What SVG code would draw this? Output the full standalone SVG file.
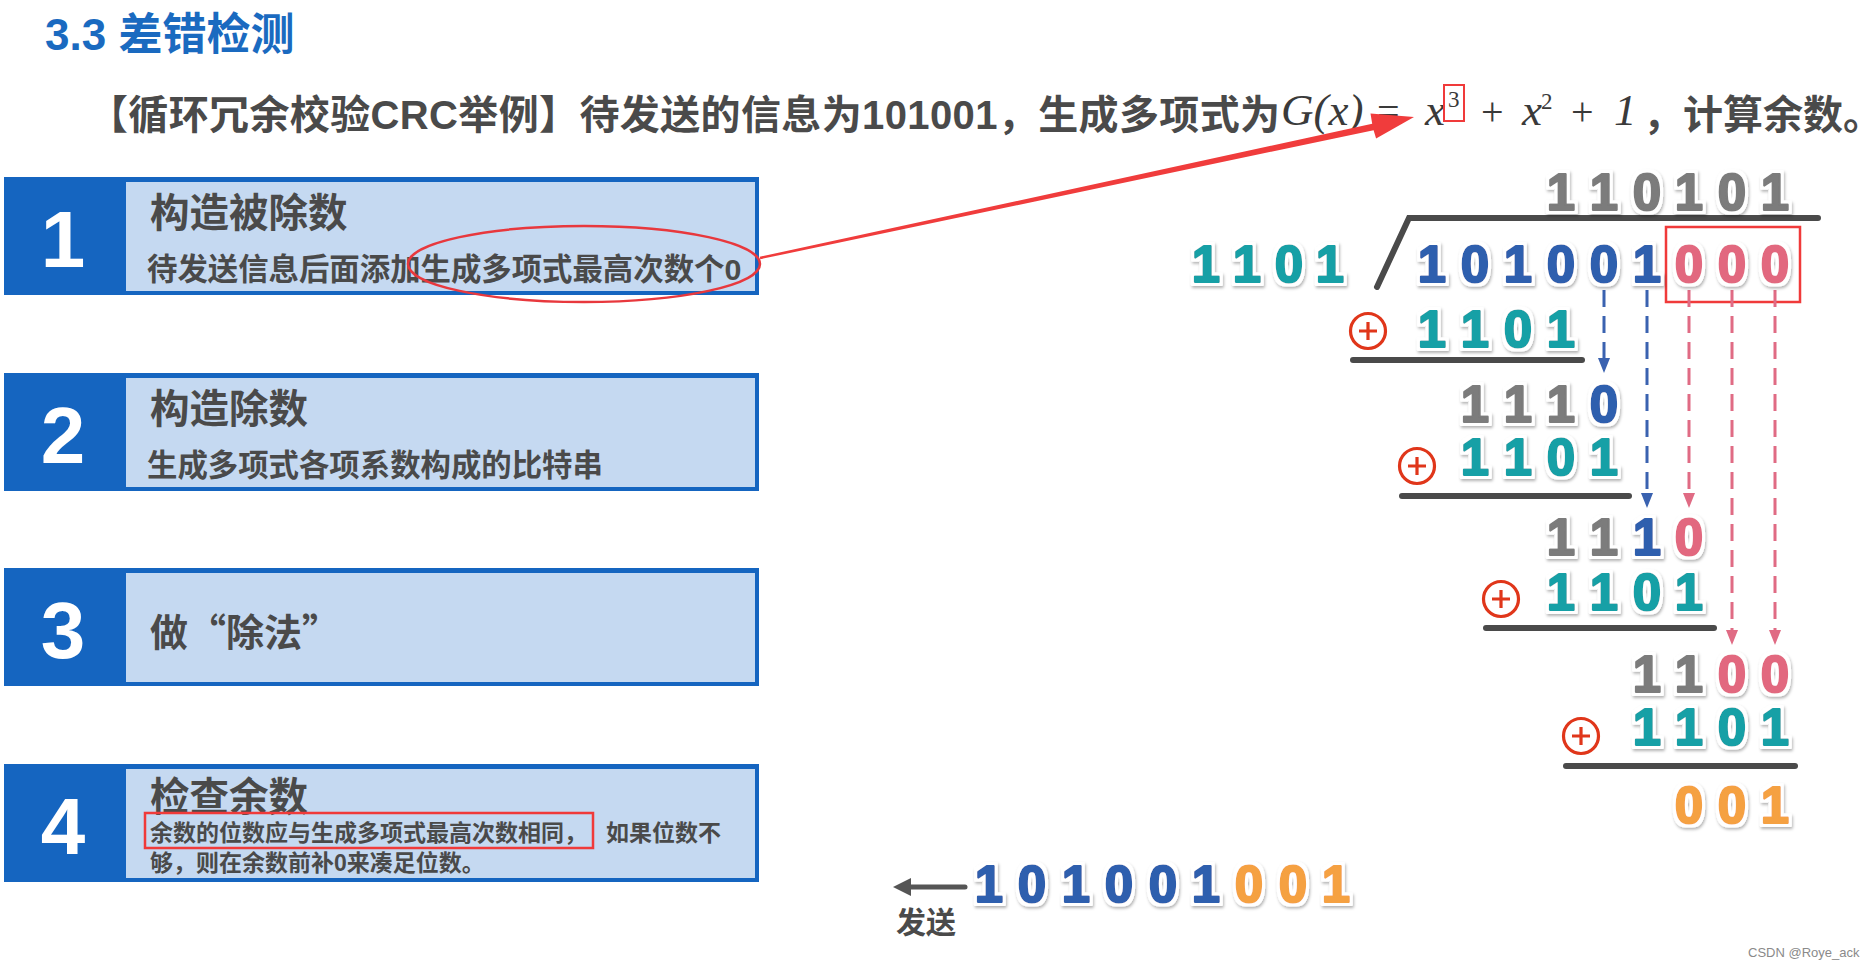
<svg xmlns="http://www.w3.org/2000/svg" width="1875" height="970" viewBox="0 0 1875 970">
<defs>
<style>
.cjk{font-family:"Liberation Sans","Noto Sans CJK SC",sans-serif;font-weight:bold;fill:#4a4a4a}
.cj{font-family:"Noto Sans CJK SC",sans-serif;font-weight:bold;fill:#4a4a4a}
.math{font-family:"Liberation Serif","Times New Roman",serif;fill:#3a3a3a}
.it{font-style:italic}
.num{font-family:"Liberation Sans",Arial,sans-serif;font-weight:bold;fill:#fff;font-size:80px;text-anchor:middle}
.dg{font-family:"Liberation Sans",Arial,sans-serif;font-weight:bold;font-size:51px;text-anchor:middle;stroke-width:2.2;stroke-linejoin:round}
.g{fill:#7b7b7b;stroke:#7b7b7b}
.t{fill:#14a0a6;stroke:#14a0a6}
.b{fill:#2e5fae;stroke:#2e5fae}
.p{fill:#e2687f;stroke:#e2687f}
.o{fill:#f5a142;stroke:#f5a142}
.bar{stroke:#4a4a4a;stroke-width:6;stroke-linecap:round;fill:none}
.xor{fill:none;stroke:#e0361a;stroke-width:3.2}
.dashb{stroke:#3a62b0;stroke-width:3;stroke-dasharray:17 9;fill:none}
.dashp{stroke:#e06b84;stroke-width:3;stroke-dasharray:17 9;fill:none}
.outer{fill:#1565c0}
.inner{fill:#c5d9f1}
</style>
<filter id="dgf" x="-20%" y="-20%" width="140%" height="150%">
<feMorphology in="SourceAlpha" operator="dilate" radius="2.5" result="d"/>
<feGaussianBlur in="d" stdDeviation="1.5" result="db"/>
<feOffset in="db" dx="1" dy="2" result="off"/>
<feFlood flood-color="#000" flood-opacity="0.3"/>
<feComposite in2="off" operator="in" result="sh"/>
<feFlood flood-color="#fff"/>
<feComposite in2="d" operator="in" result="wh"/>
<feMerge><feMergeNode in="sh"/><feMergeNode in="wh"/><feMergeNode in="SourceGraphic"/></feMerge>
</filter>
</defs>

<!-- Title -->
<text id="title" x="45" y="50" font-family="Liberation Sans,'Noto Sans CJK SC',sans-serif" font-weight="bold" font-size="44" fill="#1a6ac0">3.3 差错检测</text>

<!-- Problem statement -->
<g id="statement">
<text class="cjk" x="88" y="129" font-size="40" textLength="1192" lengthAdjust="spacing">【循环冗余校验CRC举例】待发送的信息为101001，生成多项式为</text>
<text class="math it" x="1281" y="125" font-size="45">G(x)</text>
<text class="math" x="1377" y="125" font-size="40">=</text>
<text class="math it" x="1425" y="125" font-size="45">x</text>
<text class="math" x="1448" y="107" font-size="23">3</text>
<text class="math" x="1481" y="125" font-size="40">+</text>
<text class="math it" x="1522" y="125" font-size="45">x</text>
<text class="math" x="1541" y="109" font-size="23">2</text>
<text class="math" x="1571" y="125" font-size="40">+</text>
<text class="math it" x="1614" y="125" font-size="45">1</text>
<text class="cjk" x="1643" y="129" font-size="40">，计算余数。</text>
<rect x="1444" y="85" width="20" height="36" fill="none" stroke="#f03a3a" stroke-width="2"/>
</g>

<!-- Step boxes -->
<g id="step1">
<rect class="outer" x="4" y="177" width="755" height="118"/>
<rect class="inner" x="126" y="182" width="629" height="109"/>
<text class="num" x="63" y="267">1</text>
<text class="cjk" x="150" y="227" font-size="39.5">构造被除数</text>
<text class="cjk" x="147" y="280" font-size="30.4">待发送信息后面添加生成多项式最高次数个0</text>
</g>
<g id="step2">
<rect class="outer" x="4" y="373" width="755" height="118"/>
<rect class="inner" x="126" y="378" width="629" height="109"/>
<text class="num" x="63" y="463">2</text>
<text class="cjk" x="150" y="423" font-size="39.5">构造除数</text>
<text class="cjk" x="147" y="476" font-size="30.4">生成多项式各项系数构成的比特串</text>
</g>
<g id="step3">
<rect class="outer" x="4" y="568" width="755" height="118"/>
<rect class="inner" x="126" y="573" width="629" height="109"/>
<text class="num" x="63" y="658">3</text>
<text class="cj" x="150" y="646" font-size="38">做“除法”</text>
</g>
<g id="step4">
<rect class="outer" x="4" y="764" width="755" height="118"/>
<rect class="inner" x="126" y="769" width="629" height="109"/>
<text class="num" x="63" y="854">4</text>
<text class="cjk" x="150" y="811" font-size="39.5">检查余数</text>
<text class="cjk" x="150" y="841" font-size="23">余数的位数应与生成多项式最高次数相同，<tspan x="606">如果位数不</tspan></text>
<text class="cjk" x="150" y="871" font-size="23">够，则在余数前补0来凑足位数。</text>
<rect x="145" y="813" width="448" height="35" fill="none" stroke="#f03a3a" stroke-width="2.5"/>
</g>

<!-- Highlight ellipse + arrow -->
<g id="highlight">
<ellipse cx="584" cy="264" rx="176" ry="38" fill="none" stroke="#e8383d" stroke-width="2.5"/>
<polygon points="759.7,256.8 1372.2,123.8 1370.5,113.5 1414,117 1376.1,138.5 1373.6,130.2 760.3,259.2" fill="#f03c3c"/>
</g>

<!-- Division structure -->
<g id="connectors">
<path class="bar" d="M1377 287 L1409 218 L1818 218"/>
<line class="bar" x1="1353" y1="360" x2="1582" y2="360"/>
<line class="bar" x1="1402" y1="496" x2="1629" y2="496"/>
<line class="bar" x1="1486" y1="628" x2="1714" y2="628"/>
<line class="bar" x1="1566" y1="766" x2="1795" y2="766"/>
<rect x="1666" y="227" width="134" height="75" fill="none" stroke="#f03a3a" stroke-width="2.5"/>
<line class="dashb" x1="1604" y1="290" x2="1604" y2="360"/>
<polygon points="1598,358 1610,358 1604,373" fill="#3a62b0"/>
<line class="dashb" x1="1647" y1="290" x2="1647" y2="495"/>
<polygon points="1641,493 1653,493 1647,508" fill="#3a62b0"/>
<line class="dashp" x1="1689" y1="290" x2="1689" y2="495"/>
<polygon points="1683,493 1695,493 1689,508" fill="#e06b84"/>
<line class="dashp" x1="1732" y1="290" x2="1732" y2="632"/>
<polygon points="1726,630 1738,630 1732,645" fill="#e06b84"/>
<line class="dashp" x1="1775" y1="290" x2="1775" y2="632"/>
<polygon points="1769,630 1781,630 1775,645" fill="#e06b84"/>
<line x1="965" y1="887" x2="905" y2="887" stroke="#555" stroke-width="5" stroke-linecap="round"/>
<polygon points="893,887 911,878 911,896" fill="#555"/>
</g>

<g id="xors">
<circle class="xor" cx="1368" cy="331" r="17.5"/><path class="xor" d="M1359 331 H1377 M1368 322 V340"/>
<circle class="xor" cx="1417" cy="466" r="17.5"/><path class="xor" d="M1408 466 H1426 M1417 457 V475"/>
<circle class="xor" cx="1501" cy="599" r="17.5"/><path class="xor" d="M1492 599 H1510 M1501 590 V608"/>
<circle class="xor" cx="1581" cy="736" r="17.5"/><path class="xor" d="M1572 736 H1590 M1581 727 V745"/>
</g>

<g id="digits" filter="url(#dgf)">
<text class="dg g" x="1561 1604 1647 1689 1732 1775" y="210">110101</text>
<text class="dg t" x="1206 1247 1289 1330" y="282">1101</text>
<text class="dg b" x="1432 1475 1518 1561 1604 1647" y="282">101001</text>
<text class="dg p" x="1689 1732 1775" y="282">000</text>
<text class="dg t" x="1432 1475 1518 1561" y="347">1101</text>
<text class="dg g" x="1475 1518 1561" y="422">111</text>
<text class="dg b" x="1604" y="422">0</text>
<text class="dg t" x="1475 1518 1561 1604" y="475">1101</text>
<text class="dg g" x="1561 1604" y="555">11</text>
<text class="dg b" x="1647" y="555">1</text>
<text class="dg p" x="1689" y="555">0</text>
<text class="dg t" x="1561 1604 1647 1689" y="610">1101</text>
<text class="dg g" x="1647 1689" y="692">11</text>
<text class="dg p" x="1732 1775" y="692">00</text>
<text class="dg t" x="1647 1689 1732 1775" y="745">1101</text>
<text class="dg o" x="1689 1732 1775" y="823">001</text>
<text class="dg b" x="989 1032 1076 1119 1163 1206" y="902">101001</text>
<text class="dg o" x="1249 1293 1336" y="902">001</text>
</g>

<text id="send" class="cjk" x="896" y="933" font-size="30">发送</text>
<text id="wm" x="1748" y="957" font-family="Liberation Sans,Arial,sans-serif" font-size="13" fill="#8a8a8a">CSDN @Roye_ack</text>
</svg>
